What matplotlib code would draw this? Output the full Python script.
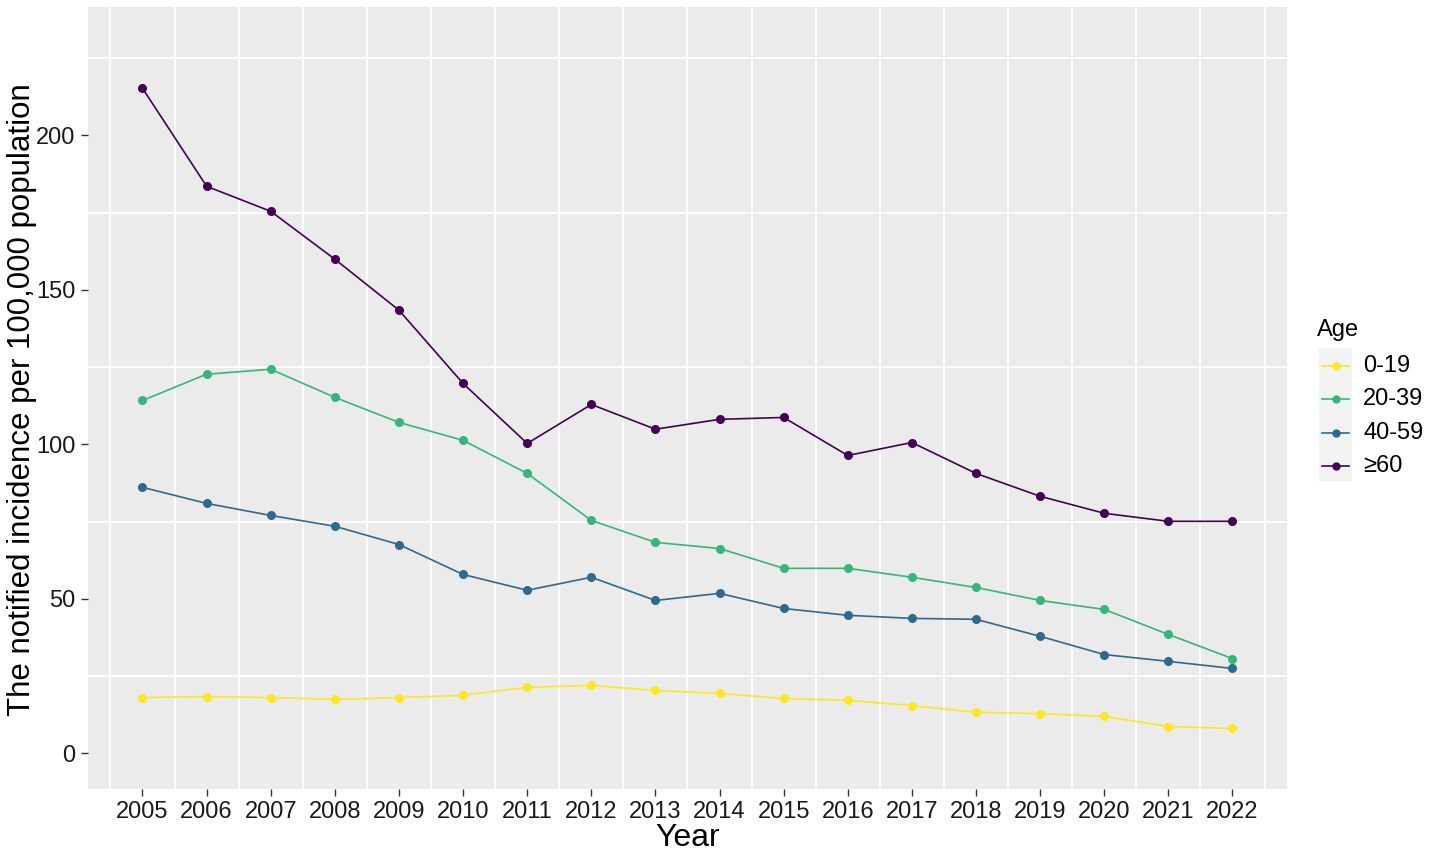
import matplotlib
matplotlib.use("Agg")
import matplotlib.pyplot as plt
from matplotlib.patches import Rectangle
import numpy as np

plt.rcParams['font.family'] = ['Liberation Sans', 'DejaVu Sans']

years = list(range(2005, 2023))
age_groups = ["0-19", "20-39", "40-59", "≥60"]
colors = ["#FDE725", "#35B779", "#31688E", "#440154"]

inc_0_19 = [18.1, 18.4, 18.1, 17.5, 18.1, 18.8, 21.4, 22.0, 20.4, 19.4, 17.8, 17.2, 15.5, 13.3, 12.9, 12.0, 8.7, 8.1]
inc_20_39 = [114.2, 122.7, 124.3, 115.2, 107.1, 101.3, 90.6, 75.4, 68.3, 66.3, 59.9, 59.9, 57.0, 53.7, 49.5, 46.6, 38.5, 30.7]
inc_40_59 = [86.1, 80.9, 77.0, 73.5, 67.6, 57.9, 52.8, 57.0, 49.5, 51.8, 46.9, 44.7, 43.7, 43.4, 37.9, 32.0, 29.8, 27.5]
inc_60 = [215.2, 183.5, 175.4, 159.9, 143.4, 119.7, 100.3, 112.9, 104.9, 108.1, 108.7, 96.4, 100.6, 90.6, 83.2, 77.7, 75.1, 75.1]
series = [inc_0_19, inc_20_39, inc_40_59, inc_60]
y_ticks = [0, 50, 100, 150, 200]

W, H = 1430, 860
fig = plt.figure(figsize=(W/100, H/100), dpi=100)
L, R, T, B = 88, 1287, 7, 789
ax = fig.add_axes([L/W, 1 - B/H, (R-L)/W, (B-T)/H])
ax.set_facecolor("#EBEBEB")
for s in ax.spines.values():
    s.set_visible(False)

x0, x1 = years[0], years[-1]
xr = x1 - x0
ax.set_xlim(x0 - 0.05*xr, x1 + 0.05*xr)
ymin, ymax = 0, 230
ax.set_ylim(ymin - 0.05*(ymax-ymin), ymax + 0.05*(ymax-ymin))

# minor grid only (between years / between y ticks)
for xv in np.arange(x0 - 0.5, x1 + 1.0, 1.0):
    ax.axvline(xv, color="white", lw=1.3, zorder=1)
for yv in [25, 75, 125, 175, 225]:
    ax.axhline(yv, color="white", lw=1.3, zorder=1)

for vals, c in zip(series, colors):
    ax.plot(years, vals, color=c, lw=1.2, zorder=3)
    ax.plot(years, vals, 'o', color=c, ms=5.5, zorder=4)

ax.set_xticks(years)
ax.set_xticklabels([str(y) for y in years])
ax.set_yticks(y_ticks)
ax.tick_params(axis='both', length=5, width=1, color="#333333", labelsize=17, labelcolor="#1a1a1a", pad=4)
ax.set_xlabel("Year", fontsize=23, labelpad=0)
fig.text(22/W, 1 - 400/H, "The notified incidence per 100,000 population", fontsize=22.5,
         rotation=90, ha="center", va="center", color="black")

# legend
lax = fig.add_axes([0, 0, 1, 1], facecolor="none")
lax.set_xlim(0, W)
lax.set_ylim(H, 0)
lax.axis("off")
lax.text(1317, 330, "Age", fontsize=17, va="center", ha="left", color="black")
lax.add_patch(Rectangle((1319, 348), 33, 133, facecolor="#F2F2F2", edgecolor="none"))
ys = [366, 399, 433, 466]
for lab, c, yy in zip(age_groups, colors, ys):
    lax.plot([1322, 1349], [yy, yy], color=c, lw=1.2)
    lax.plot([1335.5], [yy], 'o', color=c, ms=5)
    lax.text(1363, yy, lab, fontsize=17, va="center", ha="left", color="black")

fig.savefig("out.png", dpi=100)
